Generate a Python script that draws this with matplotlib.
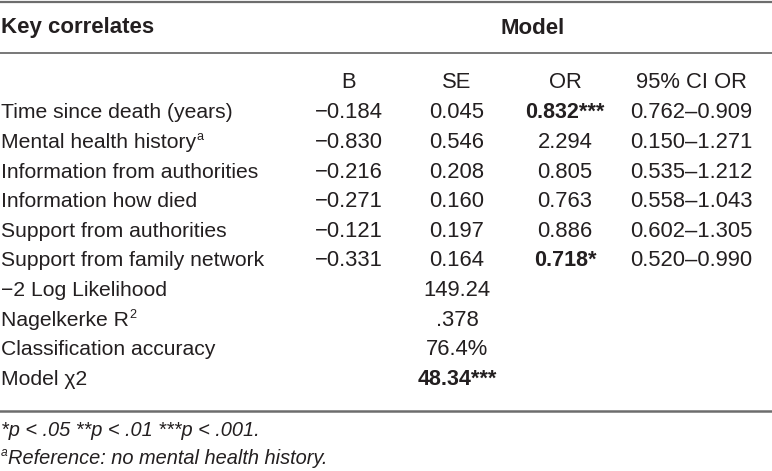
import matplotlib
matplotlib.use("Agg")
import matplotlib.pyplot as plt

plt.rcParams['font.family'] = ['Liberation Sans', 'DejaVu Sans']

# ---- data ----
title_left = "Key correlates"
title_group = "Model"
col_headers = ["B", "SE", "OR", "95% CI OR"]
row_labels = ["Time since death (years)", "Mental health history",
              "Information from authorities", "Information how died",
              "Support from authorities", "Support from family network",
              "\u22122 Log Likelihood", "Nagelkerke R",
              "Classification accuracy", "Model \u03c72"]
row_sups = ["", "a", "", "", "", "", "", "2", "", ""]
B_vals = ["\u22120.184", "\u22120.830", "\u22120.216", "\u22120.271", "\u22120.121", "\u22120.331",
          "", "", "", ""]
SE_vals = ["0.045", "0.546", "0.208", "0.160", "0.197", "0.164",
           "149.24", ".378", "76.4%", "48.34***"]
OR_vals = ["0.832***", "2.294", "0.805", "0.763", "0.886", "0.718*",
           "", "", "", ""]
CI_vals = ["0.762\u20130.909", "0.150\u20131.271", "0.535\u20131.212", "0.558\u20131.043",
           "0.602\u20131.305", "0.520\u20130.990", "", "", "", ""]
bold_cells = {("SE", 9), ("OR", 0), ("OR", 5)}
footnote1 = "*p < .05 **p < .01 ***p < .001."
footnote2_sup = "a"
footnote2 = "Reference: no mental health history."

# ---- layout ----
W, H = 772, 471
fig = plt.figure(figsize=(W / 100, H / 100), dpi=100)
ax = fig.add_axes([0, 0, 1, 1])
ax.set_xlim(0, W)
ax.set_ylim(H, 0)
ax.axis('off')
renderer = fig.canvas.get_renderer()

txt = '#231f20'
fs_lab = 15.2
fs_num = 15.8
fs_bold = 16.0
fs_foot = 14.4
line_c = '#6d6d6d'
col_x = [349, 457, 565, 691]
y_title = 28
y_head = 83
y0 = 113
dy = 29.6


def with_sup(x, y, base, sup, fs, **kw):
    t = ax.text(x, y, base, fontsize=fs, color=txt, va='center', ha='left', **kw)
    if sup:
        bb = t.get_window_extent(renderer)
        x_end = ax.transData.inverted().transform((bb.x1, bb.y0))[0]
        ax.text(x_end + 0.5, y - fs * 0.36, sup, fontsize=fs * 0.6, color=txt,
                va='center', ha='left', **kw)
    return t


ax.axhline(2, color=line_c, lw=1.6)
ax.axhline(53, color=line_c, lw=1.3)
ax.axhline(410.5, color=line_c, lw=1.8)

ax.text(1, y_title, title_left, fontsize=fs_bold, fontweight='bold', color=txt, va='center', ha='left')
ax.text(533, y_title, title_group, fontsize=fs_bold, fontweight='bold', color=txt, va='center', ha='center')
for x, h in zip(col_x, col_headers):
    ax.text(x, y_head, h, fontsize=fs_num, color=txt, va='center', ha='center')

cols = {"B": B_vals, "SE": SE_vals, "OR": OR_vals, "CI": CI_vals}
for i, lab in enumerate(row_labels):
    y = y0 + i * dy
    with_sup(1, y, lab, row_sups[i], fs_lab)
    for x, (name, vals) in zip(col_x, cols.items()):
        v = vals[i]
        if not v:
            continue
        bold = (name, i) in bold_cells
        ax.text(x, y, v, fontsize=fs_bold - 0.5 if bold else fs_num, color=txt,
                va='center', ha='center', fontweight='bold' if bold else 'normal')

ax.text(1, 430, footnote1, fontsize=fs_foot, color=txt, va='center', ha='left', style='italic')
sup_t = ax.text(1, 458 - fs_foot * 0.33, footnote2_sup, fontsize=fs_foot * 0.6, color=txt,
                va='center', ha='left', style='italic')
bb = sup_t.get_window_extent(renderer)
xs = ax.transData.inverted().transform((bb.x1, bb.y0))[0]
ax.text(xs + 0.5, 458, footnote2, fontsize=fs_foot, color=txt, va='center', ha='left', style='italic')

fig.savefig("out.png", dpi=100, facecolor='white')
